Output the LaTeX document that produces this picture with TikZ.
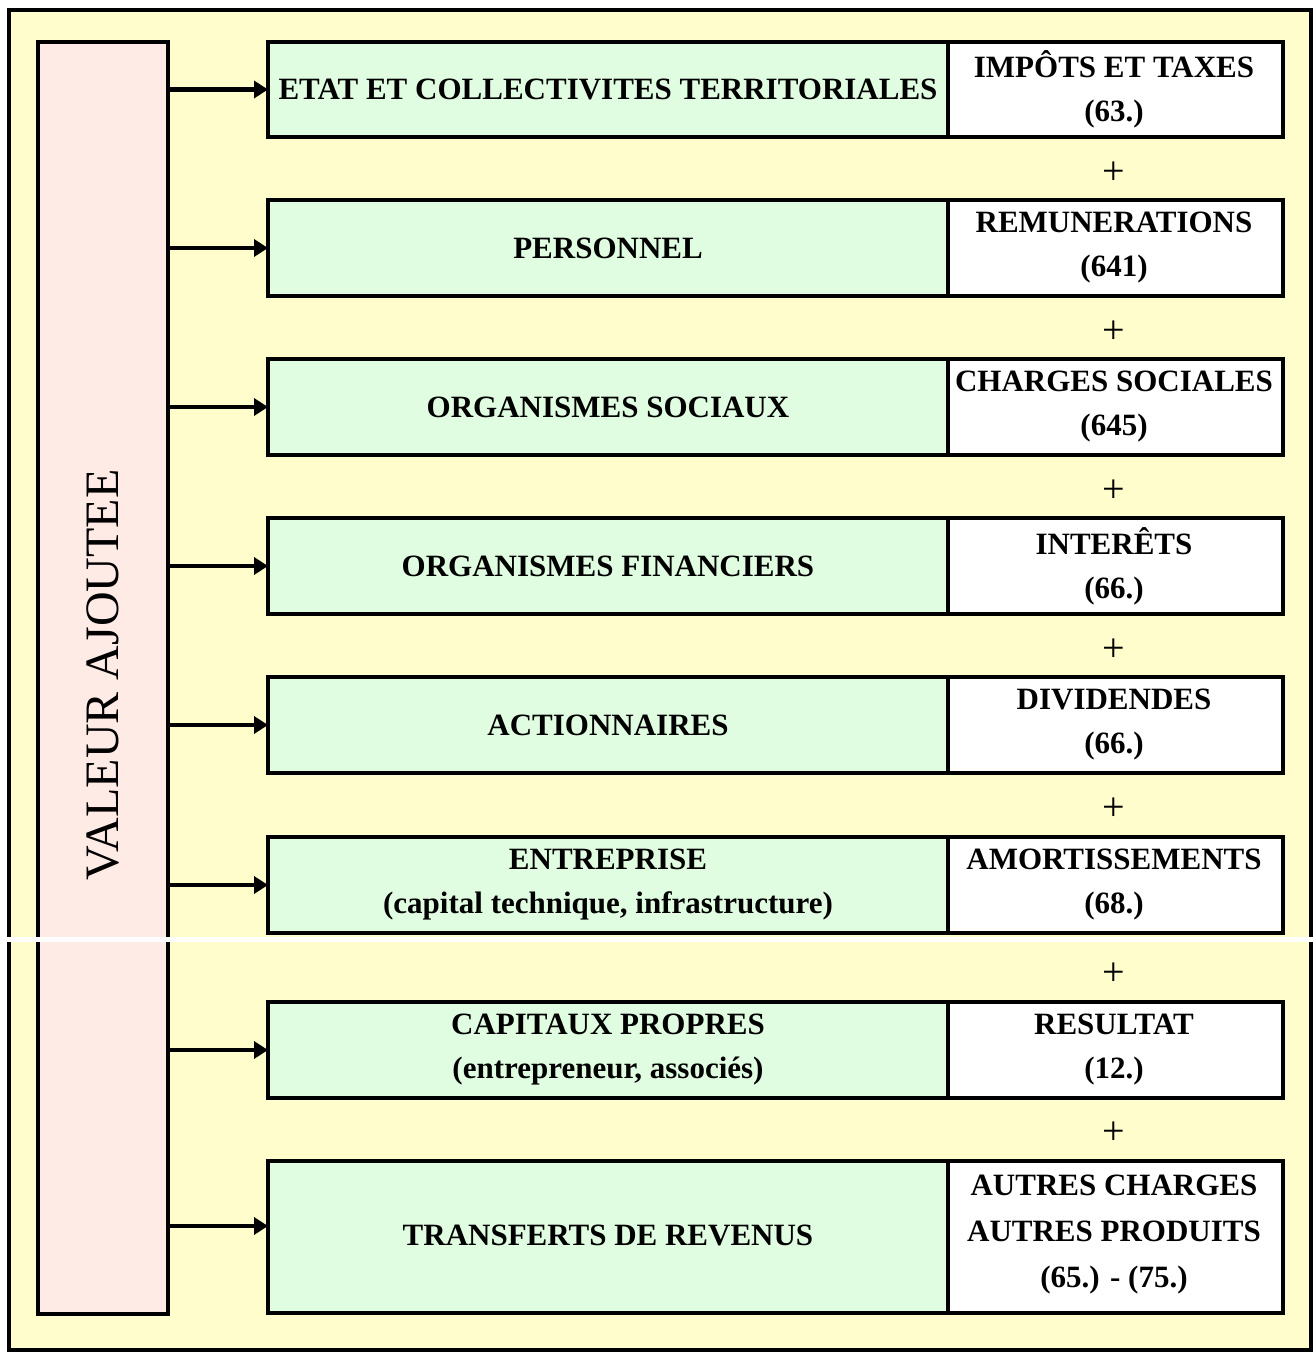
\documentclass[tikz,border=0pt]{standalone}
\usepackage{fontspec}
\setmainfont{Liberation Serif}
\usetikzlibrary{arrows.meta}
\definecolor{bgyellow}{HTML}{FFFDCC}
\definecolor{pinkbox}{HTML}{FFEBE5}
\definecolor{greenbox}{HTML}{E1FDE1}
\tikzset{
  x=1pt, y=-1pt,
  frame/.style={draw=black, line width=4.5pt},
  greencell/.style={frame, fill=greenbox},
  whitecell/.style={frame, fill=white},
  lbl/.style={font=\fontsize{31}{44}\selectfont\bfseries, align=center, inner sep=0pt},
  plus/.style={font=\fontsize{40}{40}\selectfont, inner sep=0pt},
  arr/.style={line width=4.5pt, -{Triangle[length=14pt,width=17pt]}}
}
\begin{document}
\begin{tikzpicture}
\useasboundingbox (0,0) rectangle (1316,1354);
\fill[white] (0,0) rectangle (1316,1354);
% outer frame
\draw[frame, fill=bgyellow] (9,10) rectangle (1311,1350);
% left box
\draw[frame, fill=pinkbox] (38,42) rectangle (168,1314);
\node[rotate=90, font=\fontsize{48}{48}\selectfont, inner sep=0pt] (va) at (103,675) {VALEUR AJOUTEE};
\coordinate (L) at (168,0);
% rows
\foreach \i/\top/\bot/\g/\w in {
 1/42/137/{ETAT ET COLLECTIVITES TERRITORIALES}/{IMPÔTS ET TAXES\\(63.)},
 2/200/296/{PERSONNEL}/{REMUNERATIONS\\(641)},
 3/359/455/{ORGANISMES SOCIAUX}/{CHARGES SOCIALES\\(645)},
 4/518/614/{ORGANISMES FINANCIERS}/{INTERÊTS\\(66.)},
 5/677/773/{ACTIONNAIRES}/{DIVIDENDES\\(66.)},
 6/837/933/{ENTREPRISE\\(capital technique, infrastructure)}/{AMORTISSEMENTS\\(68.)},
 7/1002/1098/{CAPITAUX PROPRES\\(entrepreneur, associés)}/{RESULTAT\\(12.)}}{
  \draw[greencell] (268,\top) rectangle (948,\bot);
  \draw[whitecell] (948,\top) rectangle (1283,\bot);
  \node[lbl] (g\i) at (608,{(\top+\bot)/2}) {\g};
  \node[lbl] (w\i) at (1114,{(\top+\bot)/2}) {\w};
  \coordinate (a\i) at (268,{(\top+\bot)/2});
  \draw[arr] (a\i -| L) -- (a\i);
}
\draw[greencell] (268,1161) rectangle (948,1313);
\draw[whitecell] (948,1161) rectangle (1283,1313);
\node[lbl] (g8) at (608,1235) {TRANSFERTS DE REVENUS};
\node[lbl, font=\fontsize{31}{46}\selectfont\bfseries] (w8) at (1114,1235) {AUTRES CHARGES\\AUTRES PRODUITS\\(65.) - (75.)};
\coordinate (a8) at (268,1226);
\draw[arr] (a8 -| L) -- (a8);
% plus signs
\foreach \y [count=\k] in {173,332,491,650,809,974,1133}{
  \node[plus] (p\k) at (1114,\y) {+};
}
% white gap band
\fill[white] (0,937) rectangle (1316,942);
\end{tikzpicture}
\end{document}
